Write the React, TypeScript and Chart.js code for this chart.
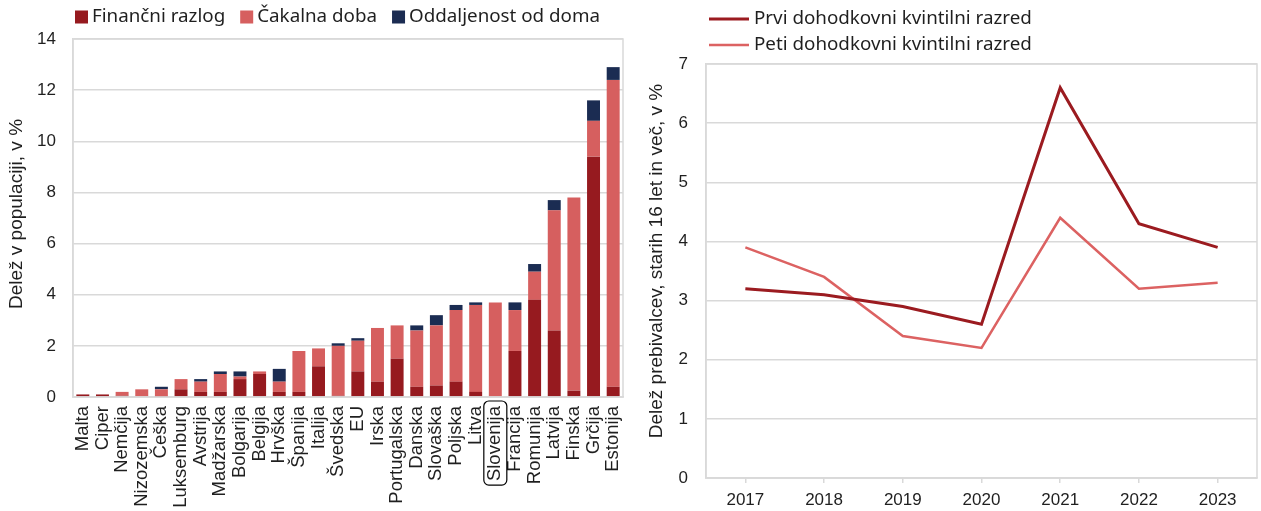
import React, { useEffect, useRef } from "react";
import { Chart, registerables } from "chart.js";

Chart.register(...registerables);

// ---------- Left chart data ----------
const countries = [
  "Malta", "Ciper", "Nemčija", "Nizozemska", "Češka", "Luksemburg", "Avstrija",
  "Madžarska", "Bolgarija", "Belgija", "Hrvška", "Španija", "Italija", "Švedska",
  "EU", "Irska", "Portugalska", "Danska", "Slovaška", "Poljska", "Litva",
  "Slovenija", "Francija", "Romunija", "Latvija", "Finska", "Grčija", "Estonija",
];
const financniRazlog = [
  0.1, 0.1, 0.05, 0, 0.02, 0.3, 0.2, 0.2, 0.7, 0.9, 0.2, 0.2, 1.2, 0.05,
  1.0, 0.6, 1.5, 0.4, 0.45, 0.6, 0.2, 0, 1.8, 3.8, 2.6, 0.25, 9.4, 0.4,
];
const cakalnaDoba = [
  0, 0, 0.15, 0.3, 0.28, 0.4, 0.4, 0.7, 0.1, 0.1, 0.4, 1.6, 0.7, 1.95,
  1.2, 2.1, 1.3, 2.2, 2.35, 2.8, 3.4, 3.7, 1.6, 1.1, 4.7, 7.55, 1.4, 12.0,
];
const oddaljenost = [
  0, 0, 0, 0, 0.1, 0, 0.1, 0.1, 0.2, 0, 0.5, 0, 0, 0.1,
  0.1, 0, 0, 0.2, 0.4, 0.2, 0.1, 0, 0.3, 0.3, 0.4, 0, 0.8, 0.5,
];
const highlighted = "Slovenija";
const leftTitle = "Delež v populaciji, v %";

// ---------- Right chart data ----------
const years = ["2017", "2018", "2019", "2020", "2021", "2022", "2023"];
const prviKvintil = [3.2, 3.1, 2.9, 2.6, 6.6, 4.3, 3.9];
const petiKvintil = [3.9, 3.4, 2.4, 2.2, 4.4, 3.2, 3.3];
const rightTitle = "Delež prebivalcev, starih 16 let in več, v %";

const DARK = "#961a1f";
const PINK = "#d65f5f";
const NAVY = "#1b2c52";
const LINE_DARK = "#9b1b20";
const LINE_LIGHT = "#dc6262";
const GRID = "#d9d9d9";
const TEXT = "#1f1f1f";
const TICK_FONT = "'Liberation Sans', Arial, sans-serif";
const LEGEND_FONT = "'Noto Sans', 'Liberation Sans', sans-serif";
const LEGEND_SIZE = 18.8;

const borderPlugin = {
  id: "plotBorder",
  afterDatasetsDraw(chart: any) {
    const { ctx, chartArea } = chart;
    ctx.save();
    ctx.strokeStyle = GRID;
    ctx.lineWidth = 1.5;
    ctx.strokeRect(chartArea.left, chartArea.top, chartArea.right - chartArea.left, chartArea.bottom - chartArea.top);
    ctx.restore();
  },
};

// vertical axis title drawn at a given centre
const makeYTitlePlugin = (text: string, cx: number, cy: number) => ({
  id: "yTitle",
  afterDraw(chart: any) {
    const { ctx } = chart;
    ctx.save();
    ctx.font = `19px ${TICK_FONT}`;
    ctx.fillStyle = TEXT;
    ctx.textAlign = "center";
    ctx.textBaseline = "middle";
    ctx.translate(cx, cy);
    ctx.rotate(-Math.PI / 2);
    ctx.fillText(text, 0, 0);
    ctx.restore();
  },
});

const highlightPlugin = {
  id: "highlightLabel",
  afterDraw(chart: any) {
    const xs = chart.scales.x;
    const idx = countries.indexOf(highlighted);
    if (idx < 0) return;
    const { ctx } = chart;
    const x = xs.getPixelForTick(idx);
    ctx.save();
    ctx.font = `18.5px ${TICK_FONT}`;
    const w = ctx.measureText(highlighted).width;
    const top = chart.chartArea.bottom + 4;
    ctx.strokeStyle = "#000";
    ctx.lineWidth = 1.2;
    ctx.beginPath();
    (ctx as any).roundRect(x - 11.5, top, 23, w + 9, 5);
    ctx.stroke();
    ctx.restore();
  },
};

// custom legend: box legend in one row
const boxLegendPlugin = {
  id: "boxLegend",
  afterDraw(chart: any) {
    const { ctx } = chart;
    ctx.save();
    ctx.font = `${LEGEND_SIZE}px ${LEGEND_FONT}`;
    ctx.textBaseline = "middle";
    ctx.textAlign = "left";
    let x = 75;
    const y = 17;
    chart.data.datasets.forEach((ds: any) => {
      ctx.fillStyle = ds.backgroundColor;
      ctx.fillRect(x, y - 6.5, 13, 13);
      ctx.fillStyle = TEXT;
      ctx.fillText(ds.label, x + 17, y);
      x += 17 + ctx.measureText(ds.label).width + 15;
    });
    ctx.restore();
  },
};

// custom legend: line legend stacked in rows
const lineLegendPlugin = {
  id: "lineLegend",
  afterDraw(chart: any) {
    const { ctx } = chart;
    ctx.save();
    ctx.font = `${LEGEND_SIZE}px ${LEGEND_FONT}`;
    ctx.textBaseline = "middle";
    ctx.textAlign = "left";
    chart.data.datasets.forEach((ds: any, i: number) => {
      const y = 19 + i * 26;
      ctx.strokeStyle = ds.borderColor;
      ctx.lineWidth = ds.borderWidth;
      ctx.beginPath();
      ctx.moveTo(69, y);
      ctx.lineTo(109, y);
      ctx.stroke();
      ctx.fillStyle = TEXT;
      ctx.fillText(ds.label, 114, y);
    });
    ctx.restore();
  },
};

function BarChart() {
  const ref = useRef<HTMLCanvasElement>(null);
  useEffect(() => {
    const chart = new Chart(ref.current as HTMLCanvasElement, {
      type: "bar",
      data: {
        labels: countries,
        datasets: [
          { label: "Finančni razlog", data: financniRazlog, backgroundColor: DARK },
          { label: "Čakalna doba", data: cakalnaDoba, backgroundColor: PINK },
          { label: "Oddaljenost od doma", data: oddaljenost, backgroundColor: NAVY },
        ],
      },
      options: {
        responsive: false,
        animation: false,
        layout: { padding: { top: 39, left: 0, right: 17, bottom: 0 } },
        datasets: { bar: { barPercentage: 0.66, categoryPercentage: 1 } } as any,
        plugins: {
          legend: { display: false },
          tooltip: { enabled: false },
        },
        scales: {
          x: {
            stacked: true,
            grid: { display: false },
            border: { color: GRID, width: 1.5 },
            ticks: {
              autoSkip: false,
              minRotation: 90,
              maxRotation: 90,
              padding: 1,
              color: TEXT,
              font: { size: 18.5, family: TICK_FONT },
            },
            afterFit(s: any) { s.height = 114; },
          },
          y: {
            stacked: true,
            min: 0,
            max: 14,
            ticks: { stepSize: 2, padding: 17, color: TEXT, font: { size: 17, family: TICK_FONT } },
            grid: { color: GRID, lineWidth: 1.5, drawTicks: false },
            border: { color: GRID, width: 1.5 },
            afterFit(s: any) { s.width = 73; },
          },
        },
      },
      plugins: [borderPlugin, highlightPlugin, boxLegendPlugin, makeYTitlePlugin(leftTitle, 17, 214)],
    });
    return () => chart.destroy();
  }, []);
  return <canvas ref={ref} width={640} height={511} />;
}

function LineChart() {
  const ref = useRef<HTMLCanvasElement>(null);
  useEffect(() => {
    const chart = new Chart(ref.current as HTMLCanvasElement, {
      type: "line",
      data: {
        labels: years,
        datasets: [
          { label: "Prvi dohodkovni kvintilni razred", data: prviKvintil, borderColor: LINE_DARK, backgroundColor: LINE_DARK, borderWidth: 3, pointRadius: 0, tension: 0 },
          { label: "Peti dohodkovni kvintilni razred", data: petiKvintil, borderColor: LINE_LIGHT, backgroundColor: LINE_LIGHT, borderWidth: 2.5, pointRadius: 0, tension: 0 },
        ],
      },
      options: {
        responsive: false,
        animation: false,
        layout: { padding: { top: 64, left: 0, right: 4, bottom: 0 } },
        plugins: {
          legend: { display: false },
          tooltip: { enabled: false },
        },
        scales: {
          x: {
            offset: true,
            grid: { drawOnChartArea: false, offset: false, color: GRID, lineWidth: 1.5, tickLength: 5 },
            border: { color: GRID, width: 1.5 },
            ticks: { padding: 7, color: TEXT, font: { size: 17, family: TICK_FONT } },
            afterFit(s: any) { s.height = 33; },
          },
          y: {
            min: 0,
            max: 7,
            ticks: { stepSize: 1, padding: 18, color: TEXT, font: { size: 17, family: TICK_FONT } },
            grid: { color: GRID, lineWidth: 1.5, drawTicks: false },
            border: { color: GRID, width: 1.5 },
            afterFit(s: any) { s.width = 66; },
          },
        },
      },
      plugins: [borderPlugin, lineLegendPlugin, makeYTitlePlugin(rightTitle, 17, 261)],
    });
    return () => chart.destroy();
  }, []);
  return <canvas ref={ref} width={621} height={511} />;
}

export default function App() {
  return (
    <div style={{ position: "fixed", left: 0, top: 0, width: 1261, height: 511, display: "flex", background: "#fff" }}>
      <div style={{ width: 640, height: 511 }}><BarChart /></div>
      <div style={{ width: 621, height: 511 }}><LineChart /></div>
    </div>
  );
}
